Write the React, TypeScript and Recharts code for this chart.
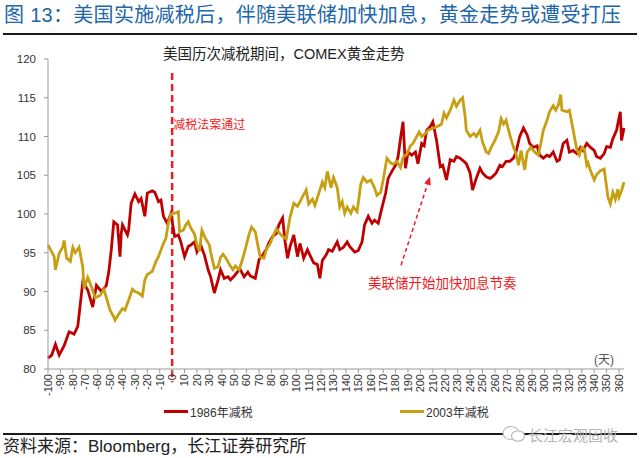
import React from 'react';
import { LineChart, Line, XAxis, YAxis, ReferenceLine, ReferenceDot } from 'recharts';

const redDays = [-100, -97, -94, -91, -87, -83, -79, -76, -72, -68, -64, -61, -57, -53, -51, -49, -47, -44, -42, -41, -40, -36, -35, -33, -30, -27, -25, -22, -20, -16, -14, -11, -9, -7, -4, -1, 2, 5, 7, 10, 13, 15, 18, 20, 23, 26, 29, 31, 34, 37, 39, 42, 45, 47, 50, 53, 55, 58, 61, 63, 67, 70, 73, 76, 78, 81, 84, 86, 89, 91, 93, 95, 98, 101, 103, 106, 109, 111, 114, 117, 119, 121, 124, 126, 129, 133, 135, 138, 141, 143, 147, 150, 153, 155, 158, 161, 163, 166, 169, 172, 174, 177, 180, 182, 184, 186, 188, 190, 193, 196, 198, 201, 203, 205, 208, 210, 213, 216, 218, 221, 224, 227, 229, 232, 235, 237, 240, 242, 245, 248, 250, 253, 256, 258, 261, 264, 266, 269, 272, 275, 277, 280, 283, 286, 288, 291, 294, 296, 299, 302, 304, 307, 310, 312, 315, 318, 320, 323, 326, 329, 331, 334, 337, 340, 342, 345, 348, 350, 353, 355, 358, 361, 362, 364];
const redValues = [81.4, 81.8, 83.2, 81.8, 83.0, 84.8, 84.5, 85.5, 91.2, 90.2, 88.0, 90.8, 90.0, 90.8, 92.6, 95.4, 99.0, 98.6, 94.5, 97.5, 98.6, 97.3, 98.0, 101.4, 102.6, 101.6, 102.0, 99.7, 102.7, 103.0, 102.8, 101.6, 101.8, 99.7, 98.8, 100.0, 97.1, 97.3, 96.4, 94.5, 95.8, 96.0, 96.4, 95.1, 96.0, 94.7, 92.8, 91.9, 89.8, 91.5, 92.8, 91.7, 91.9, 91.5, 92.0, 92.6, 92.8, 91.9, 92.5, 92.0, 91.7, 94.1, 94.7, 95.5, 96.3, 97.1, 97.5, 98.6, 99.5, 96.4, 94.3, 95.8, 97.3, 94.5, 96.2, 94.3, 95.4, 94.7, 93.7, 93.5, 91.7, 94.0, 94.7, 95.4, 95.2, 96.4, 95.4, 95.7, 96.4, 95.8, 95.1, 95.3, 96.4, 98.6, 99.7, 98.8, 99.2, 98.8, 100.8, 102.7, 104.6, 105.5, 106.3, 107.4, 109.8, 111.9, 105.9, 108.0, 107.6, 108.0, 106.5, 109.1, 108.8, 110.8, 111.3, 111.9, 109.5, 106.1, 106.3, 104.4, 107.0, 106.8, 107.4, 107.2, 106.8, 106.5, 105.3, 103.1, 104.6, 105.9, 105.3, 104.8, 104.6, 104.8, 105.3, 106.3, 106.1, 106.8, 106.8, 107.2, 108.0, 110.0, 111.1, 110.2, 109.1, 108.6, 108.8, 107.6, 107.2, 107.6, 107.4, 108.0, 106.8, 107.0, 109.1, 109.5, 108.0, 108.2, 107.8, 108.6, 108.2, 109.1, 108.6, 108.2, 107.4, 107.2, 107.8, 108.7, 108.6, 109.7, 110.8, 113.2, 109.5, 111.1];

const goldDays = [-100, -98, -95, -94, -91, -88, -87, -85, -82, -80, -78, -75, -72, -71, -68, -65, -62, -58, -55, -53, -50, -47, -46, -43, -40, -38, -35, -32, -30, -27, -24, -22, -20, -16, -13, -11, -8, -5, -3, -1, 2, 5, 6, 9, 11, 13, 15, 18, 20, 22, 24, 27, 30, 31, 34, 37, 39, 41, 43, 46, 49, 51, 54, 56, 59, 62, 64, 67, 69, 71, 74, 76, 79, 82, 84, 87, 90, 92, 95, 98, 101, 103, 105, 108, 110, 113, 115, 118, 121, 123, 125, 128, 130, 133, 135, 137, 139, 141, 144, 146, 149, 152, 154, 157, 160, 163, 165, 168, 170, 173, 176, 178, 181, 184, 186, 189, 192, 194, 197, 199, 201, 204, 206, 209, 212, 215, 217, 219, 221, 224, 227, 229, 232, 234, 236, 237, 240, 243, 245, 248, 250, 253, 255, 257, 260, 263, 265, 267, 269, 272, 275, 277, 279, 281, 284, 286, 289, 292, 295, 297, 299, 302, 304, 307, 309, 311, 313, 314, 318, 320, 322, 324, 326, 328, 330, 332, 334, 335, 337, 340, 342, 345, 348, 350, 351, 353, 355, 357, 359, 360, 362, 364];
const goldValues = [96.0, 95.4, 94.5, 92.8, 94.9, 95.8, 96.6, 94.3, 93.9, 95.7, 95.0, 95.7, 93.2, 90.4, 91.8, 90.6, 89.2, 89.5, 90.3, 89.2, 87.6, 86.7, 86.3, 87.1, 87.8, 87.6, 88.9, 90.3, 90.0, 89.8, 89.4, 91.5, 92.2, 92.6, 93.9, 94.5, 95.8, 96.9, 98.9, 100.0, 100.1, 100.3, 97.7, 97.9, 98.6, 99.0, 98.2, 97.4, 96.0, 95.2, 97.9, 96.8, 96.0, 95.1, 93.0, 93.2, 94.4, 94.8, 94.4, 93.5, 92.8, 93.3, 92.8, 93.8, 95.5, 97.4, 98.3, 97.7, 96.0, 94.4, 94.3, 95.5, 96.2, 97.4, 98.1, 97.4, 97.0, 96.8, 99.6, 101.4, 101.0, 101.6, 102.2, 103.1, 101.3, 101.9, 101.1, 102.6, 104.1, 103.4, 105.5, 103.4, 104.7, 103.4, 100.9, 101.6, 100.1, 100.9, 100.1, 100.9, 100.3, 103.9, 104.7, 104.1, 104.4, 103.4, 102.4, 102.8, 104.4, 107.2, 106.6, 106.4, 106.8, 106.0, 107.3, 107.7, 108.8, 109.1, 110.0, 110.6, 110.0, 110.4, 110.8, 111.0, 111.2, 111.4, 111.6, 113.0, 112.4, 113.4, 114.7, 113.9, 114.7, 115.0, 112.6, 110.8, 110.0, 110.4, 110.0, 110.8, 109.3, 108.0, 107.8, 108.6, 109.5, 110.6, 112.3, 111.6, 112.1, 110.2, 108.6, 107.8, 106.3, 108.2, 105.7, 108.0, 108.6, 108.0, 107.6, 109.1, 110.8, 112.1, 113.2, 114.0, 113.4, 114.0, 115.4, 113.4, 113.2, 113.4, 111.7, 110.0, 108.3, 107.6, 108.6, 108.4, 106.3, 106.6, 105.6, 104.4, 105.1, 105.6, 105.8, 103.5, 102.2, 101.3, 102.8, 101.9, 103.2, 102.2, 103.0, 104.1];

const xTicks = [-100, -90, -80, -70, -60, -50, -40, -30, -20, -10, 0, 10, 20, 30, 40, 50, 60, 70, 80, 90, 100, 110, 120, 130, 140, 150, 160, 170, 180, 190, 200, 210, 220, 230, 240, 250, 260, 270, 280, 290, 300, 310, 320, 330, 340, 350, 360];
const yTicks = [80, 85, 90, 95, 100, 105, 110, 115, 120];

const seriesNames = ['1986年减税', '2003年减税'];

const redData = redDays.map((d, i) => ({ d, v: redValues[i] }));
const goldData = goldDays.map((d, i) => ({ d, v: goldValues[i] }));

const RED = '#C00000';
const GOLD = '#C79F12';
const BRIGHT = '#EE1C25';
const LATIN = "'Liberation Sans', Arial, 'Noto Sans CJK SC', sans-serif";
const CJK = "'Liberation Sans', 'Noto Sans CJK SC', sans-serif";

const XTick = (props: any) => {
  const { x, y, payload } = props;
  return (
    <text
      x={x}
      y={y}
      transform={`rotate(-90 ${x} ${y})`}
      textAnchor="end"
      dy="0.35em"
      fontSize={11}
      fill="#333"
      fontFamily={LATIN}
    >
      {payload.value}
    </text>
  );
};

const ArrowShape = (p: any) => {
  const { x1, y1, x2, y2 } = p;
  const ang = Math.atan2(y2 - y1, x2 - x1);
  const L = 8;
  const W = 3.5;
  const bx = x2 - L * Math.cos(ang);
  const by = y2 - L * Math.sin(ang);
  const pts = `${x2},${y2} ${bx + W * Math.sin(ang)},${by - W * Math.cos(ang)} ${bx - W * Math.sin(ang)},${by + W * Math.cos(ang)}`;
  return (
    <g>
      <line x1={x1} y1={y1} x2={bx} y2={by} stroke={BRIGHT} strokeWidth={1.5} strokeDasharray="4 3" />
      <polygon points={pts} fill={BRIGHT} />
    </g>
  );
};

export default function App() {
  return (
    <div style={{ position: 'absolute', left: 0, top: 0, width: 640, height: 458, background: '#fff', overflow: 'hidden' }}>
      <div style={{ position: 'absolute', left: 0, top: 0 }}>
        <LineChart width={640} height={458} margin={{ top: 59, right: 16, bottom: 59, left: 0 }}>
          <XAxis
            type="number"
            dataKey="d"
            domain={[-100, 364]}
            ticks={xTicks}
            interval={0}
            tick={<XTick />}
            tickSize={4}
            tickMargin={1}
            height={30}
            axisLine={{ stroke: '#999' }}
            tickLine={{ stroke: '#999' }}
            allowDuplicatedCategory={false}
          />
          <YAxis
            type="number"
            domain={[80, 120]}
            ticks={yTicks}
            interval={0}
            width={48}
            tickSize={4}
            tickMargin={8}
            axisLine={{ stroke: '#999' }}
            tickLine={{ stroke: '#999' }}
            tick={{ fontSize: 11.5, fill: '#333', fontFamily: LATIN }}
          />
          <ReferenceLine
            segment={[{ x: 0, y: 118.2 }, { x: 0, y: 78.3 }]}
            ifOverflow="visible"
            stroke={BRIGHT}
            strokeWidth={2.5}
            strokeDasharray="7 4"
          />
          <ReferenceLine
            segment={[{ x: 184.4, y: 93.4 }, { x: 207.7, y: 104.8 }]}
            ifOverflow="visible"
            shape={ArrowShape}
          />
          <Line
            data={redData}
            dataKey="v"
            name={seriesNames[0]}
            type="linear"
            stroke={RED}
            strokeWidth={2.8}
            dot={false}
            isAnimationActive={false}
          />
          <Line
            data={goldData}
            dataKey="v"
            name={seriesNames[1]}
            type="linear"
            stroke={GOLD}
            strokeWidth={2.8}
            dot={false}
            isAnimationActive={false}
          />
          <ReferenceDot
            x={0}
            y={111.5}
            r={0}
            fill="none"
            stroke="none"
            ifOverflow="visible"
            label={{ value: '减税法案通过', position: 'right', offset: 1, fill: BRIGHT, fontSize: 12, fontFamily: CJK }}
          />
          <ReferenceDot
            x={157}
            y={91.1}
            r={0}
            fill="none"
            stroke="none"
            ifOverflow="visible"
            label={{ value: '美联储开始加快加息节奏', position: 'right', offset: 1, fill: BRIGHT, fontSize: 13.5, fontFamily: CJK }}
          />
          <ReferenceDot
            x={339}
            y={81.2}
            r={0}
            fill="none"
            stroke="none"
            ifOverflow="visible"
            label={{ value: '(天)', position: 'right', offset: 1, fill: '#555', fontSize: 12, fontFamily: CJK }}
          />
        </LineChart>
      </div>

      <div style={{ position: 'absolute', left: 4, top: 2, fontSize: 20, lineHeight: '26px', color: '#2166A8', fontFamily: CJK, whiteSpace: 'nowrap', letterSpacing: 0.3 }}>
        图 13：美国实施减税后，伴随美联储加快加息，黄金走势或遭受打压
      </div>
      <div style={{ position: 'absolute', left: 3, top: 33, width: 634, height: 2, background: '#1a1a1a' }} />

      <div style={{ position: 'absolute', left: 163, top: 44, fontSize: 14.5, lineHeight: '20px', color: '#222', fontFamily: CJK, whiteSpace: 'nowrap' }}>
        美国历次减税期间，COMEX黄金走势
      </div>

      <div style={{ position: 'absolute', left: 164, top: 402, display: 'flex', alignItems: 'center', height: 18, fontFamily: CJK, fontSize: 12, color: '#333', whiteSpace: 'nowrap' }}>
        <span style={{ display: 'inline-block', width: 24, height: 3, background: RED, marginRight: 2 }} />
        {seriesNames[0]}
      </div>
      <div style={{ position: 'absolute', left: 400, top: 402, display: 'flex', alignItems: 'center', height: 18, fontFamily: CJK, fontSize: 12, color: '#333', whiteSpace: 'nowrap' }}>
        <span style={{ display: 'inline-block', width: 24, height: 3, background: GOLD, marginRight: 2 }} />
        {seriesNames[1]}
      </div>

      <div style={{ position: 'absolute', left: 3, top: 433, width: 634, height: 2, background: '#1a1a1a' }} />

      <div style={{ position: 'absolute', left: 502, top: 424, display: 'flex', alignItems: 'center', height: 20, whiteSpace: 'nowrap' }}>
        <svg width={24} height={18} viewBox="0 0 24 18">
          <ellipse cx={9} cy={8} rx={8} ry={6.5} fill="#fff" stroke="#bbb" strokeWidth={1.2} />
          <ellipse cx={16} cy={11} rx={6.5} ry={5.2} fill="#fff" stroke="#bbb" strokeWidth={1.2} />
        </svg>
        <span style={{ fontFamily: CJK, fontSize: 15, color: '#b5b5b5', marginLeft: 2 }}>长江宏观固收</span>
      </div>

      <div style={{ position: 'absolute', left: 3, top: 437, fontSize: 17, lineHeight: '20px', color: '#222', fontFamily: CJK, whiteSpace: 'nowrap' }}>
        资料来源：Bloomberg，长江证券研究所
      </div>
    </div>
  );
}
